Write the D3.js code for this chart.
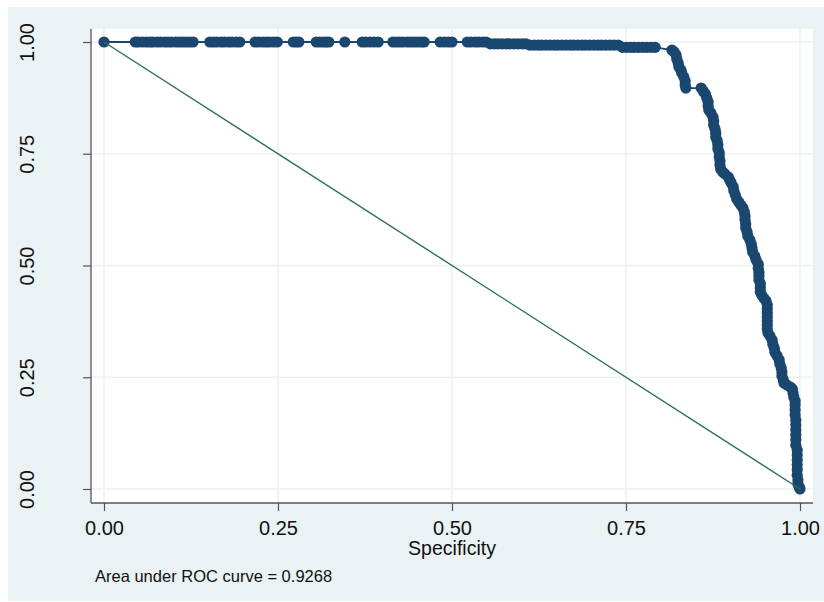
<!DOCTYPE html>
<html>
<head>
<meta charset="utf-8">
<script src="https://cdn.jsdelivr.net/npm/d3@7"></script>
<style>
  body { margin: 0; background: #ffffff; }
  svg { display: block; font-family: "Liberation Sans", Arial, Helvetica, sans-serif; }
</style>
</head>
<body>
<svg id="chart" width="824" height="602"></svg>
<script>
// tick values
const xTicks = [0, 0.25, 0.5, 0.75, 1]
const yTicks = [0, 0.25, 0.5, 0.75, 1]

// ROC points: plateau where sensitivity = 1
const plateauSpec = [0,
    0.045, 0.049, 0.055, 0.061, 0.066, 0.070, 0.076, 0.081, 0.087, 0.092, 0.097, 0.103, 0.108, 0.113, 0.118, 0.123, 0.128,
    0.152, 0.157, 0.162, 0.168, 0.173, 0.179, 0.184, 0.190, 0.195,
    0.217, 0.222, 0.228, 0.233, 0.238, 0.244, 0.249,
    0.272, 0.276, 0.280,
    0.305, 0.310, 0.315, 0.319, 0.323,
    0.346,
    0.371, 0.376, 0.382, 0.388, 0.394,
    0.415, 0.420, 0.425, 0.430, 0.436, 0.441, 0.446, 0.451, 0.456, 0.460,
    0.483, 0.489, 0.495, 0.500,
    0.522, 0.527, 0.533, 0.538, 0.544, 0.549]

// shoulder: sensitivity just under 1
const shoulderSpec = [0.555, 0.561, 0.566, 0.572, 0.578, 0.583, 0.589, 0.595, 0.601, 0.606,
    0.612, 0.618, 0.624, 0.629, 0.635, 0.641, 0.647, 0.652, 0.658, 0.664, 0.670, 0.675,
    0.681, 0.687, 0.692, 0.698, 0.704, 0.710, 0.715, 0.721, 0.727, 0.733, 0.739,
    0.745, 0.751, 0.757, 0.762, 0.768, 0.774, 0.780, 0.786, 0.792]
const shoulderSens = [0.996, 0.996, 0.996, 0.996, 0.996, 0.996, 0.996, 0.996, 0.996, 0.996,
    0.993, 0.993, 0.993, 0.993, 0.993, 0.993, 0.993, 0.993, 0.993, 0.993, 0.993, 0.993,
    0.993, 0.993, 0.993, 0.993, 0.993, 0.993, 0.993, 0.993, 0.993, 0.993, 0.993,
    0.988, 0.988, 0.988, 0.988, 0.988, 0.988, 0.988, 0.988, 0.988]

// drop towards specificity = 1
const dropSpec = [0.816, 0.819, 0.822, 0.823, 0.825, 0.826, 0.829, 0.830, 0.833, 0.835, 0.835, 0.836,
    0.858, 0.861, 0.864, 0.866, 0.868, 0.868, 0.869, 0.872, 0.875, 0.876, 0.876, 0.878,
    0.879, 0.879, 0.881, 0.882, 0.882, 0.884, 0.884, 0.885, 0.885, 0.886, 0.889, 0.892,
    0.897, 0.899, 0.901, 0.904, 0.905, 0.907, 0.909, 0.912, 0.915, 0.918, 0.920, 0.921,
    0.921, 0.922, 0.922, 0.924, 0.925, 0.928, 0.930, 0.931, 0.932, 0.935, 0.937, 0.940,
    0.940, 0.941, 0.941, 0.941, 0.943, 0.943, 0.943, 0.945, 0.948, 0.951, 0.953, 0.953,
    0.953, 0.953, 0.953, 0.953, 0.953, 0.954, 0.957, 0.960, 0.961, 0.963, 0.964, 0.967,
    0.970, 0.971, 0.973, 0.974, 0.974, 0.976, 0.977, 0.981, 0.986, 0.989, 0.990, 0.991,
    0.993, 0.993, 0.993, 0.993, 0.994, 0.994, 0.994, 0.994, 0.994, 0.994, 0.996, 0.996,
    0.996, 0.996, 0.996, 0.996, 0.997, 0.997, 0.999, 1.000]
const dropSens = [0.982, 0.978, 0.971, 0.962, 0.953, 0.944, 0.937, 0.931, 0.922, 0.913, 0.904, 0.897,
    0.897, 0.890, 0.884, 0.875, 0.866, 0.857, 0.848, 0.841, 0.832, 0.823, 0.814, 0.805,
    0.796, 0.787, 0.779, 0.770, 0.761, 0.752, 0.743, 0.734, 0.725, 0.716, 0.709, 0.705,
    0.698, 0.691, 0.685, 0.676, 0.667, 0.658, 0.649, 0.642, 0.635, 0.629, 0.620, 0.611,
    0.602, 0.593, 0.584, 0.575, 0.566, 0.557, 0.548, 0.539, 0.530, 0.521, 0.512, 0.503,
    0.494, 0.485, 0.477, 0.468, 0.459, 0.450, 0.441, 0.434, 0.427, 0.421, 0.412, 0.403,
    0.394, 0.385, 0.376, 0.367, 0.358, 0.349, 0.342, 0.333, 0.324, 0.315, 0.306, 0.298,
    0.289, 0.280, 0.271, 0.262, 0.253, 0.244, 0.237, 0.233, 0.228, 0.224, 0.215, 0.206,
    0.197, 0.188, 0.177, 0.166, 0.154, 0.143, 0.132, 0.121, 0.110, 0.098, 0.087, 0.076,
    0.065, 0.054, 0.043, 0.031, 0.020, 0.011, 0.004, 0.000]

// reference diagonal
const refSpec = [0, 1]
const refSens = [1, 0]

const aucText = "Area under ROC curve = 0.9268"
const xTitle = "Specificity"

// build the point list
let points = []
plateauSpec.forEach((s) => { points.push({ spec: s, sens: 1 }) })
shoulderSpec.forEach((s, i) => { points.push({ spec: s, sens: shoulderSens[i] }) })
dropSpec.forEach((s, i) => { points.push({ spec: s, sens: dropSens[i] }) })
const refPoints = refSpec.map((s, i) => { return { spec: s, sens: refSens[i] } })

const svg = d3.select("#chart")
const navy = "#1a476f"
const bgColor = "#eaf2f3"

// outer graph region
svg.append("rect")
    .attr("x", 8).attr("y", 7)
    .attr("width", 816).attr("height", 594)
    .attr("fill", bgColor)

// plot region
const plot = { left: 91, top: 29, right: 813, bottom: 503 }
svg.append("rect")
    .attr("x", plot.left).attr("y", plot.top)
    .attr("width", plot.right - plot.left)
    .attr("height", plot.bottom - plot.top)
    .attr("fill", "#ffffff")

const x = d3.scaleLinear().domain([0, 1]).range([104, 800])
const y = d3.scaleLinear().domain([0, 1]).range([489, 42])

// grid
svg.append("g").selectAll("line")
    .data(xTicks)
    .enter()
    .append("line")
    .attr("x1", (d) => { return x(d) })
    .attr("x2", (d) => { return x(d) })
    .attr("y1", plot.top)
    .attr("y2", plot.bottom)
    .style("stroke", bgColor)
    .style("stroke-width", "1.5px")
svg.append("g").selectAll("line")
    .data(yTicks)
    .enter()
    .append("line")
    .attr("x1", plot.left)
    .attr("x2", plot.right)
    .attr("y1", (d) => { return y(d) })
    .attr("y2", (d) => { return y(d) })
    .style("stroke", bgColor)
    .style("stroke-width", "1.5px")

// axes
const xAxis = d3.axisBottom(x)
    .tickValues(xTicks)
    .tickFormat(d3.format(".2f"))
    .tickSize(8)
    .tickPadding(10)
const gx = svg.append("g")
    .attr("transform", "translate(0," + plot.bottom + ")")
    .call(xAxis)
gx.select(".domain").remove()
gx.selectAll(".tick line").style("stroke", "#555555").style("stroke-width", "1.2px")
gx.selectAll(".tick text")
    .style("font-size", "20px")
    .style("fill", "#111111")
    .style("font-family", "'Liberation Sans', Arial, sans-serif")

const yAxis = d3.axisLeft(y)
    .tickValues(yTicks)
    .tickFormat(d3.format(".2f"))
    .tickSize(8)
const gy = svg.append("g")
    .attr("transform", "translate(" + plot.left + ",0)")
    .call(yAxis)
gy.select(".domain").remove()
gy.selectAll(".tick line").style("stroke", "#555555").style("stroke-width", "1.2px")
gy.selectAll(".tick text")
    .attr("x", 0)
    .attr("y", 0)
    .attr("dy", 0)
    .attr("transform", "translate(-57,0) rotate(-90)")
    .style("text-anchor", "middle")
    .style("font-size", "20px")
    .style("fill", "#111111")
    .style("font-family", "'Liberation Sans', Arial, sans-serif")

// axis lines along the plot region edges
svg.append("line")
    .attr("x1", plot.left).attr("x2", plot.left)
    .attr("y1", plot.top).attr("y2", plot.bottom)
    .style("stroke", "#555555").style("stroke-width", "1.3px")
svg.append("line")
    .attr("x1", plot.left).attr("x2", plot.right)
    .attr("y1", plot.bottom).attr("y2", plot.bottom)
    .style("stroke", "#555555").style("stroke-width", "1.3px")

// ROC curve: connecting line then markers
const line = d3.line()
    .x((d) => { return x(d.spec) })
    .y((d) => { return y(d.sens) })
svg.append("path")
    .datum(points)
    .attr("d", line)
    .attr("fill", "none")
    .style("stroke", navy)
    .style("stroke-width", "1.8px")
svg.append("g").selectAll("circle")
    .data(points)
    .enter()
    .append("circle")
    .attr("cx", (d) => { return x(d.spec) })
    .attr("cy", (d) => { return y(d.sens) })
    .attr("r", 5.6)
    .attr("fill", navy)

// reference line
svg.append("path")
    .datum(refPoints)
    .attr("d", line)
    .attr("fill", "none")
    .style("stroke", "#2f705c")
    .style("stroke-width", "1.4px")

// texts
svg.append("text")
    .attr("x", x(0.5))
    .attr("y", 555)
    .attr("text-anchor", "middle")
    .style("font-size", "19.5px")
    .style("fill", "#111111")
    .text(xTitle)
svg.append("text")
    .attr("x", 95)
    .attr("y", 582)
    .style("font-size", "16.5px")
    .style("fill", "#111111")
    .text(aucText)
</script>
</body>
</html>
